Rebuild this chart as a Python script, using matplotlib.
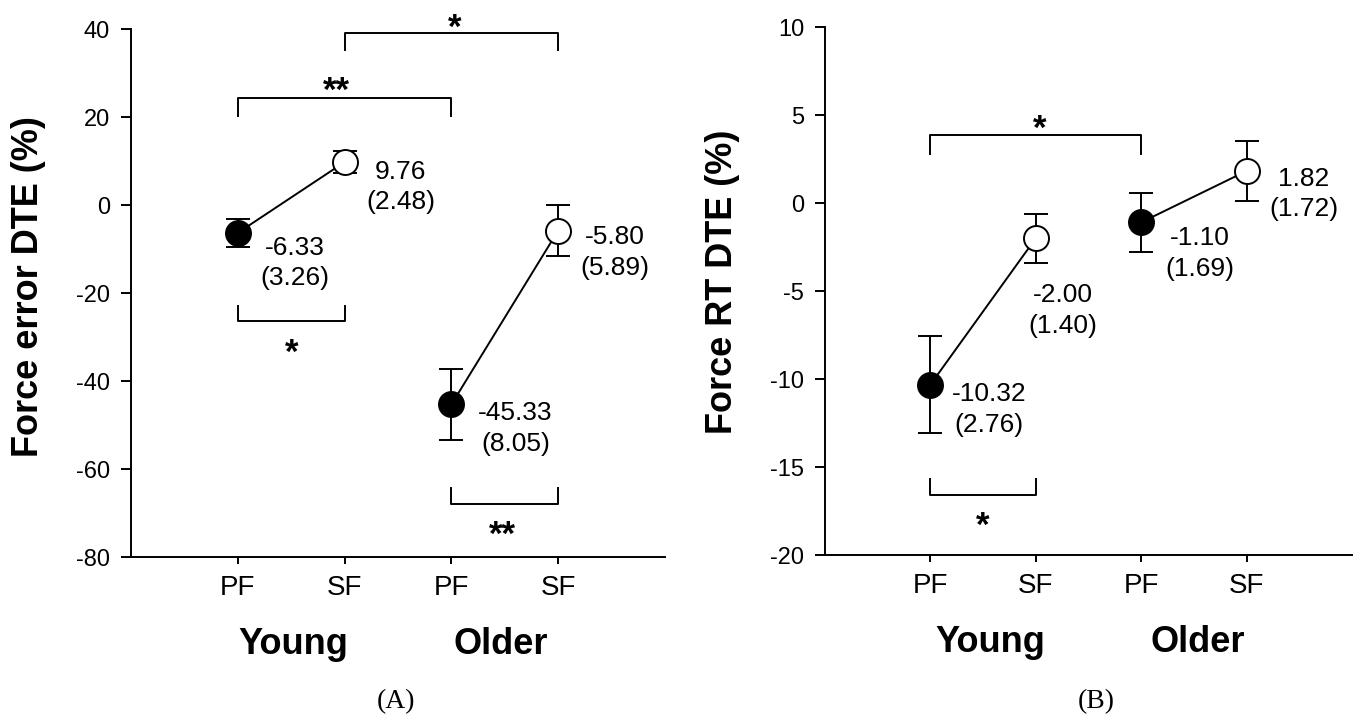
import matplotlib
matplotlib.use("Agg")
import matplotlib.pyplot as plt

plt.rcParams['font.family'] = ['Liberation Sans', 'DejaVu Sans']

W, H = 1356, 715

# ---------------- data ----------------
conditions = ["PF", "SF", "PF", "SF"]
groups = ["Young", "Older"]
x_pos = [1, 2, 3, 4]
filled = [True, False, True, False]

force_error_mean = [-6.33, 9.76, -45.33, -5.80]
force_error_se = [3.26, 2.48, 8.05, 5.89]

force_rt_mean = [-10.32, -2.00, -1.10, 1.82]
force_rt_se = [2.76, 1.40, 1.69, 1.72]

err_yticks = [-80, -60, -40, -20, 0, 20, 40]
rt_yticks = [-20, -15, -10, -5, 0, 5, 10]

# ---------------- layout / annotation placement ----------------
# value-label centre offsets from the point, in pixels (dx, dy up)
err_label_off = [(57, -30), (56, -25), (64, -24), (57, -22)]
rt_label_off = [(59, -25), (27, -72), (59, -31), (57, -23)]

# significance brackets: (x1, x2, y_line, y_leg_end, star_x, star_y, text)
err_brackets = [
    (2, 4, 39.1, 35.2, 3.03, 42.5, "*"),
    (1, 3, 24.3, 20.2, 1.92, 28.2, "**"),
    (1, 2, -26.3, -23.0, 1.5, -31.3, "*"),
    (3, 4, -67.9, -64.3, 3.48, -72.8, "**"),
]
rt_brackets = [
    (1, 3, 3.85, 2.81, 2.04, 4.75, "*"),
    (1, 2, -16.6, -15.7, 1.5, -17.8, "*"),
]

err_group_x = [1.52, 3.46]
rt_group_x = [1.57, 3.54]

PX2PT = 72.0 / 100.0
LW = 1.4


def draw(ax, means, ses, ylim, yticks, label_off, brackets, group_x):
    ax.set_xlim(0, 5)
    ax.set_ylim(*ylim)
    for s in ("top", "right"):
        ax.spines[s].set_visible(False)
    for s in ("left", "bottom"):
        ax.spines[s].set_linewidth(LW)

    # connecting lines within each group
    for i0 in (0, 2):
        ax.plot(x_pos[i0:i0 + 2], means[i0:i0 + 2], color="black", lw=LW, zorder=2)
    ax.errorbar(x_pos, means, yerr=ses, fmt="none", ecolor="black",
                elinewidth=LW, capsize=8.5, capthick=LW, zorder=2)
    for x, m, f in zip(x_pos, means, filled):
        ax.plot([x], [m], "o", ms=18, mfc="black" if f else "white",
                mec="black", mew=1.4, zorder=3)

    for x, m, s, (dx, dy) in zip(x_pos, means, ses, label_off):
        ax.annotate(f"{m:.2f}\n({s:.2f})", xy=(x, m),
                    xytext=(dx * PX2PT, dy * PX2PT), textcoords="offset points",
                    ha="center", va="center", fontsize=19, linespacing=1.35)

    for (x1, x2, yl, ye, sx, sy, txt) in brackets:
        ax.plot([x1, x1, x2, x2], [ye, yl, yl, ye], color="black", lw=LW,
                clip_on=False, zorder=2)
        fs = 25
        ax.annotate(txt, xy=(sx, sy), xytext=(0, -0.57 * fs),
                    textcoords="offset points", ha="center", va="baseline",
                    fontsize=fs, fontweight="bold", annotation_clip=False)

    ax.set_xticks(x_pos)
    ax.set_xticklabels(conditions, fontsize=20)
    ax.set_yticks(yticks)
    ax.set_yticklabels([str(t) for t in yticks], fontsize=17)
    ax.tick_params(axis="x", direction="out", length=5, width=LW, pad=8)
    ax.tick_params(axis="y", direction="out", length=7, width=LW, pad=8)

    for gx, g in zip(group_x, groups):
        ax.text(gx, -0.165, g, transform=ax.get_xaxis_transform(),
                ha="center", va="center", fontsize=26, fontweight="bold")


fig = plt.figure(figsize=(W / 100, H / 100), dpi=100)
ax1 = fig.add_axes([131 / W, 1 - 557 / H, 534 / W, 528 / H])
ax2 = fig.add_axes([825 / W, 1 - 555 / H, 527 / W, 528 / H])

draw(ax1, force_error_mean, force_error_se, (-80, 40), err_yticks,
     err_label_off, err_brackets, err_group_x)
draw(ax2, force_rt_mean, force_rt_se, (-20, 10), rt_yticks,
     rt_label_off, rt_brackets, rt_group_x)

fig.text(28.5 / W, 1 - 287 / H, "Force error DTE (%)", rotation=90,
         ha="center", va="center", fontsize=26, fontweight="bold")
fig.text(723 / W, 1 - 282 / H, "Force RT DTE (%)", rotation=90,
         ha="center", va="center", fontsize=26, fontweight="bold")

fig.text(396 / W, 1 - 708 / H, "(A)", ha="center", va="baseline",
         fontsize=20, family=["Liberation Serif", "DejaVu Serif"])
fig.text(1096 / W, 1 - 708 / H, "(B)", ha="center", va="baseline",
         fontsize=20, family=["Liberation Serif", "DejaVu Serif"])

fig.savefig("out.png", dpi=100)
